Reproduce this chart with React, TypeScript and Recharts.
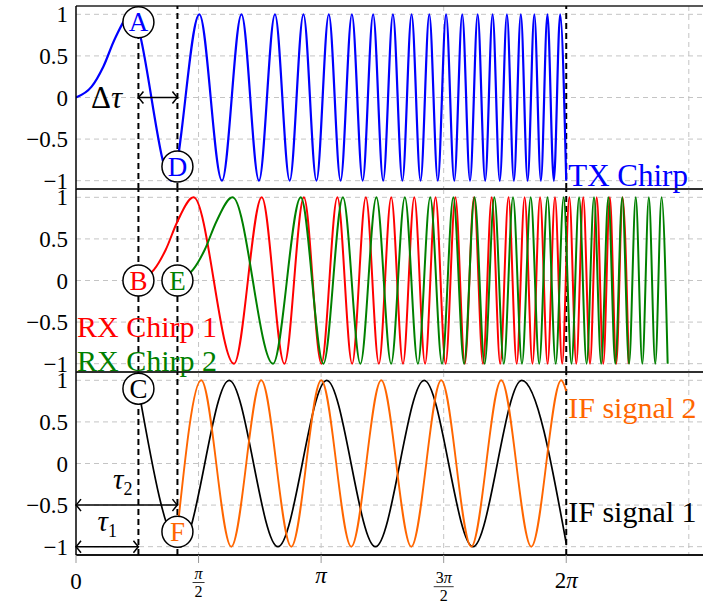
import React from 'react';
import { LineChart, Line, XAxis, YAxis, CartesianGrid, ReferenceLine, ReferenceDot } from 'recharts';

const PI = Math.PI;
const X_MAX = 8.1;
const Y_DOMAIN: [number, number] = [-1.1, 1.1];
const Y_TICKS = [-1, -0.5, 0, 0.5, 1];
const X_TICKS = [0, PI / 2, PI, (3 * PI) / 2, 2 * PI];
const X_TICK_LABELS = ['0', 'π/2', 'π', '3π/2', '2π'];
const GRID_X = [PI / 2, PI, (3 * PI) / 2, 2 * PI, (5 * PI) / 2];

const TAU1 = 0.8;
const TAU2 = 1.3;
const CHIRP_END = 2 * PI;

// TX chirp (blue): start, then peaks/troughs
const TX_X = [0, 0.2, 0.35, 0.5, 0.707, 1.225, 1.581, 1.871, 2.121, 2.345, 2.55, 2.739, 2.915, 3.082, 3.24, 3.391, 3.536, 3.674, 3.808, 3.937, 4.062, 4.183, 4.301, 4.416, 4.528, 4.637, 4.743, 4.848, 4.95, 5.05, 5.148, 5.244, 5.339, 5.431, 5.523, 5.612, 5.701, 5.788, 5.874, 5.958, 6.042, 6.124, 6.205, 6.283];
// RX chirp 1 (red)
const RX1_X = [0.8, 1.0, 1.15, 1.3, 1.507, 2.025, 2.381, 2.671, 2.921, 3.145, 3.35, 3.539, 3.715, 3.882, 4.04, 4.191, 4.336, 4.474, 4.608, 4.737, 4.862, 4.983, 5.101, 5.216, 5.328, 5.437, 5.543, 5.648, 5.75, 5.85, 5.948, 6.044, 6.139, 6.231, 6.323, 6.412, 6.501, 6.588, 6.674, 6.758, 6.842, 6.924, 7.005, 7.083];
// RX chirp 2 (green)
const RX2_X = [1.3, 1.5, 1.65, 1.8, 2.007, 2.525, 2.881, 3.171, 3.421, 3.645, 3.85, 4.039, 4.215, 4.382, 4.54, 4.691, 4.836, 4.974, 5.108, 5.237, 5.362, 5.483, 5.601, 5.716, 5.828, 5.937, 6.043, 6.148, 6.25, 6.35, 6.448, 6.544, 6.639, 6.731, 6.823, 6.912, 7.001, 7.088, 7.174, 7.258, 7.342, 7.424, 7.505, 7.583];
// shared chirp values at those points
const CHIRP_Y = [0, 0.13, 0.37, 0.71, 1, -1, 1, -1, 1, -1, 1, -1, 1, -1, 1, -1, 1, -1, 1, -1, 1, -1, 1, -1, 1, -1, 1, -1, 1, -1, 1, -1, 1, -1, 1, -1, 1, -1, 1, -1, 1, -1, 1, -1];

// IF signal 1 (black)
const IF1_X = [0.8, 1.338, 1.963, 2.588, 3.213, 3.838, 4.463, 5.088, 5.713, 6.283];
const IF1_Y = [0.9, -1, 1, -1, 1, -1, 1, -1, 1, -0.96];
// IF signal 2 (orange)
const IF2_X = [1.3, 1.605, 1.99, 2.374, 2.759, 3.143, 3.528, 3.912, 4.297, 4.681, 5.066, 5.45, 5.835, 6.219, 6.283];
const IF2_Y = [-0.8, 1, -1, 1, -1, 1, -1, 1, -1, 1, -1, 1, -1, 1, 0.87];

const BLUE = '#0000ff';
const RED = '#ff0000';
const GREEN = '#008000';
const ORANGE = '#ff6600';
const BLACK = '#000000';

const FONT = 'Liberation Serif';

const toRows = (xs: number[], ys: number[]) => xs.map((x, i) => ({ x, y: ys[i] }));
const txData = toRows(TX_X, CHIRP_Y);
const rx1Data = toRows(RX1_X, CHIRP_Y);
const rx2Data = toRows(RX2_X, CHIRP_Y);
const if1Data = toRows(IF1_X, IF1_Y);
const if2Data = toRows(IF2_X, IF2_Y);

const CW = 708;
const PH = 183;
const YW = 76;
const PAD = 12;

const fmtY = (v: number) => (v < 0 ? '\u2212' + String(-v) : String(v));

const piText = (s: string) =>
  s.split(/(π)/).filter((p) => p !== '').map((p, i) =>
    p === 'π' ? <tspan key={i} fontStyle="italic">π</tspan> : <tspan key={i}>{p}</tspan>
  );

const XTick = (props: any) => {
  const { x, y, payload } = props;
  const i = X_TICKS.findIndex((v) => Math.abs(v - payload.value) < 1e-6);
  const label = X_TICK_LABELS[i] ?? '';
  const common = { fill: '#000', style: { fontFamily: FONT }, textAnchor: 'middle' as const };
  if (label.includes('/')) {
    const [num, den] = label.split('/');
    const wide = num.length > 1;
    const numBase = y + (wide ? 18 : 14);
    const barY = y + (wide ? 21.7 : 17.5);
    const half = wide ? 10 : 6;
    return (
      <g>
        <text x={x} y={numBase} fontSize={16} {...common}>{piText(num)}</text>
        <line x1={x - half} x2={x + half} y1={barY} y2={barY} stroke="#000" strokeWidth={0.8} />
        <text x={x} y={barY + 14} fontSize={16} {...common}>{den}</text>
      </g>
    );
  }
  const off = label === '0' ? 24 : label === 'π' ? 18 : 23;
  return (
    <text x={x} y={y + off} fontSize={23} {...common}>{piText(label)}</text>
  );
};

const circleShape = (letter: string, color: string) => (p: any) => (
  <g>
    <circle cx={p.cx} cy={p.cy} r={15.5} fill="#fff" stroke="#000" strokeWidth={1.5} />
    <text x={p.cx} y={p.cy + 9} textAnchor="middle" fontSize={27} fill={color} style={{ fontFamily: FONT }}>{letter}</text>
  </g>
);

const textShape = (content: React.ReactNode, color: string, dx: number, dy: number, anchor: 'start' | 'middle' | 'end', size = 30) => (p: any) => (
  <text x={p.cx + dx} y={p.cy + dy} textAnchor={anchor} fontSize={size} fill={color} style={{ fontFamily: FONT }}>{content}</text>
);

const arrowShape = (p: any) => {
  const { x1, y1, x2, y2 } = p;
  const lx = Math.min(x1, x2);
  const rx = Math.max(x1, x2);
  const head = (tx: number, ty: number, d: number) =>
    `M${tx - d * 5},${ty - 6} Q${tx - d * 1.5},${ty - 1.5} ${tx},${ty} Q${tx - d * 1.5},${ty + 1.5} ${tx - d * 5},${ty + 6}`;
  return (
    <g>
      <line x1={lx} x2={rx} y1={y1} y2={y2} stroke="#000" strokeWidth={1.5} />
      <path d={head(rx, y2, 1) + ' ' + head(lx, y1, -1)} fill="none" stroke="#000" strokeWidth={1.5} />
    </g>
  );
};

const gridAndY = () => [
  <CartesianGrid key="grid" stroke="#c4c4c4" strokeDasharray="5 4" horizontalValues={Y_TICKS} verticalValues={GRID_X} />,
  <YAxis
    key="y"
    type="number"
    domain={Y_DOMAIN}
    ticks={Y_TICKS}
    interval={0}
    width={YW}
    allowDataOverflow
    axisLine={{ stroke: '#000', strokeWidth: 1.5 }}
    tickLine={false}
    tick={{ fill: '#000', fontSize: 23, style: { fontFamily: FONT } }}
    tickFormatter={fmtY}
  />,
  <ReferenceLine key="top" y={1.1} stroke="#222" strokeWidth={1.5} ifOverflow="visible" />,
  <ReferenceLine key="bot" y={-1.1} stroke="#222" strokeWidth={1.5} ifOverflow="visible" />,
];

const dashed = () => [
  <ReferenceLine key="d1" x={TAU1} stroke="#000" strokeWidth={2} strokeDasharray="6 4" />,
  <ReferenceLine key="d2" x={TAU2} stroke="#000" strokeWidth={2} strokeDasharray="6 4" />,
  <ReferenceLine key="d3" x={CHIRP_END} stroke="#000" strokeWidth={2} strokeDasharray="6 4" />,
];

const hiddenX = <XAxis type="number" dataKey="x" domain={[0, X_MAX]} hide allowDataOverflow />;

export default function App() {
  const margin = { top: PAD, right: 0, bottom: PAD, left: 0 };
  return (
    <div style={{ position: 'absolute', left: 0, top: 0, width: 703, height: 603, overflow: 'hidden', background: '#fff', fontFamily: FONT }}>
      <div style={{ position: 'absolute', left: 0, top: 6 - PAD }}>
        <LineChart width={CW} height={PH + 2 * PAD} margin={margin}>
          {hiddenX}
          {gridAndY()}
          {dashed()}
          <Line data={txData} dataKey="y" type="monotone" stroke={BLUE} strokeWidth={2.2} dot={false} isAnimationActive={false} />
          <ReferenceLine segment={[{ x: TAU1, y: 0 }, { x: TAU2, y: 0 }]} shape={arrowShape} ifOverflow="visible" />
          <ReferenceDot x={0} y={0} ifOverflow="visible" shape={textShape(<>Δ<tspan fontStyle="italic">τ</tspan></>, BLACK, 46, 10, 'end', 31)} />
          <ReferenceDot x={CHIRP_END} y={-1.1} ifOverflow="hidden" shape={textShape('TX Chirp', BLUE, 2, -3, 'start', 31)} />
          <ReferenceDot x={TAU1} y={0.905} ifOverflow="visible" shape={circleShape('A', BLUE)} />
          <ReferenceDot x={TAU2} y={-0.83} ifOverflow="visible" shape={circleShape('D', BLUE)} />
        </LineChart>
      </div>
      <div style={{ position: 'absolute', left: 0, top: 189 - PAD }}>
        <LineChart width={CW} height={PH + 2 * PAD} margin={margin}>
          {hiddenX}
          {gridAndY()}
          {dashed()}
          <Line data={rx1Data} dataKey="y" type="monotone" stroke={RED} strokeWidth={2} dot={false} isAnimationActive={false} />
          <Line data={rx2Data} dataKey="y" type="monotone" stroke={GREEN} strokeWidth={2} dot={false} isAnimationActive={false} />
          <ReferenceDot x={0} y={-0.5} ifOverflow="visible" shape={textShape('RX Chirp 1', RED, 1, 15, 'start')} />
          <ReferenceDot x={0} y={-1} ifOverflow="hidden" shape={textShape('RX Chirp 2', GREEN, 1, 7, 'start')} />
          <ReferenceDot x={TAU1} y={0} ifOverflow="visible" shape={circleShape('B', RED)} />
          <ReferenceDot x={TAU2} y={0} ifOverflow="visible" shape={circleShape('E', GREEN)} />
        </LineChart>
      </div>
      <div style={{ position: 'absolute', left: 0, top: 372 - PAD }}>
        <LineChart width={CW} height={PH + PAD + 48} margin={{ top: PAD, right: 0, bottom: 0, left: 0 }}>
          <XAxis
            type="number"
            dataKey="x"
            domain={[0, X_MAX]}
            allowDataOverflow
            ticks={X_TICKS}
            interval={0}
            height={48}
            tickSize={8}
            tickLine={{ stroke: '#999' }}
            axisLine={{ stroke: '#000', strokeWidth: 1.5 }}
            tick={<XTick />}
          />
          {gridAndY()}
          {dashed()}
          <Line data={if1Data} dataKey="y" type="monotone" stroke={BLACK} strokeWidth={1.7} dot={false} isAnimationActive={false} />
          <Line data={if2Data} dataKey="y" type="monotone" stroke={ORANGE} strokeWidth={1.9} dot={false} isAnimationActive={false} />
          <ReferenceLine segment={[{ x: 0, y: -0.5 }, { x: TAU2, y: -0.5 }]} shape={arrowShape} ifOverflow="visible" />
          <ReferenceLine segment={[{ x: 0, y: -1 }, { x: TAU1, y: -1 }]} shape={arrowShape} ifOverflow="visible" />
          <ReferenceDot x={0.6} y={-0.5} ifOverflow="visible" shape={textShape(<><tspan fontStyle="italic">τ</tspan><tspan fontSize={18} dy={6}>2</tspan></>, BLACK, 0, -16, 'middle', 29)} />
          <ReferenceDot x={0.4} y={-1} ifOverflow="visible" shape={textShape(<><tspan fontStyle="italic">τ</tspan><tspan fontSize={18} dy={6}>1</tspan></>, BLACK, 0, -16, 'middle', 29)} />
          <ReferenceDot x={CHIRP_END} y={0.5} ifOverflow="visible" shape={textShape('IF signal 2', ORANGE, 2, -4, 'start')} />
          <ReferenceDot x={CHIRP_END} y={-0.5} ifOverflow="visible" shape={textShape('IF signal 1', BLACK, 2, 17, 'start')} />
          <ReferenceDot x={TAU1} y={0.9} ifOverflow="visible" shape={circleShape('C', BLACK)} />
          <ReferenceDot x={TAU2} y={-0.82} ifOverflow="visible" shape={circleShape('F', ORANGE)} />
        </LineChart>
      </div>
    </div>
  );
}
